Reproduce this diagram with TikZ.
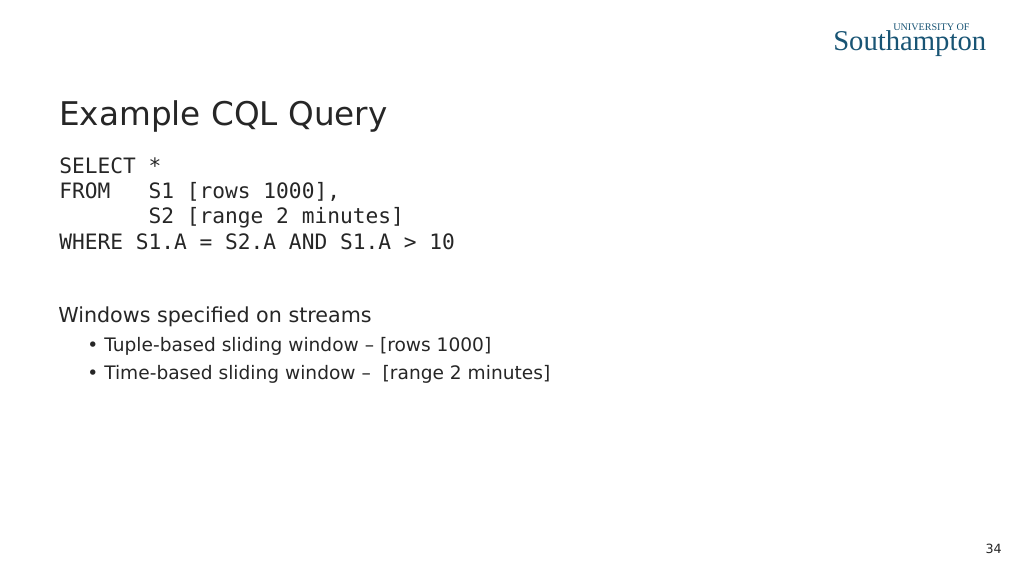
\documentclass[tikz,border=0pt]{standalone}
\usepackage{fontspec}
\setmainfont{DejaVu Sans}
\setmonofont{DejaVu Sans Mono}
\newfontfamily\logofont{Liberation Serif}
\definecolor{slidetext}{RGB}{38, 38, 38}
\definecolor{logoteal}{RGB}{24, 84, 116}
\usetikzlibrary{positioning}
\tikzset{
  titletext/.style={anchor=base west, inner sep=0pt, text=slidetext, font=\fontsize{24.5}{30}\selectfont},
  codeline/.style={anchor=base west, inner sep=0pt, text=slidetext, font=\fontsize{15.9}{19}\ttfamily},
  bodytext/.style={anchor=base west, inner sep=0pt, text=slidetext, font=\fontsize{15.5}{18}\selectfont},
  subtext/.style={anchor=base west, inner sep=0pt, text=slidetext, font=\fontsize{13.95}{16}\selectfont},
}
\begin{document}
\begin{tikzpicture}[x=0.75pt, y=-0.75pt]
  \useasboundingbox (0, 0) rectangle (1024, 576);

  % logo
  \node[anchor=base west, inner sep=0pt, text=logoteal, font=\fontsize{7.6}{9}\logofont] (logotop) at (893, 30) {UNIVERSITY OF};
  \node[anchor=base west, inner sep=0pt, text=logoteal, font=\fontsize{21.5}{26}\logofont] (logomain) at (833, 50) {Southampton};

  \node[titletext] (title) at (59, 125.5) {Example CQL Query};

  % query
  \node[codeline] (select) at (59, 173) {SELECT *};
  \node[codeline] (from) at (59, 198) {FROM~~~S1 [rows 1000],};
  \node[codeline] (fromtwo) at (59, 223.5) {~~~~~~~S2 [range 2 minutes]};
  \node[codeline] (where) at (59, 249.5) {WHERE S1.A = S2.A AND S1.A > 10};

  \node[bodytext] (windows) at (58, 322) {Windows specified on streams};
  \node[subtext] (bulletone) at (87, 351.5) {•};
  \node[subtext] (tuple) at (104, 351.5) {Tuple-based sliding window – [rows 1000]};
  \node[subtext] (bullettwo) at (87, 379.5) {•};
  \node[subtext] (timebased) at (104, 379.5) {Time-based sliding window –~~[range 2 minutes]};

  \node[anchor=base east, inner sep=0pt, text=slidetext, font=\fontsize{9.5}{11}\selectfont] (pagenum) at (1002, 553) {34};
\end{tikzpicture}
\end{document}
